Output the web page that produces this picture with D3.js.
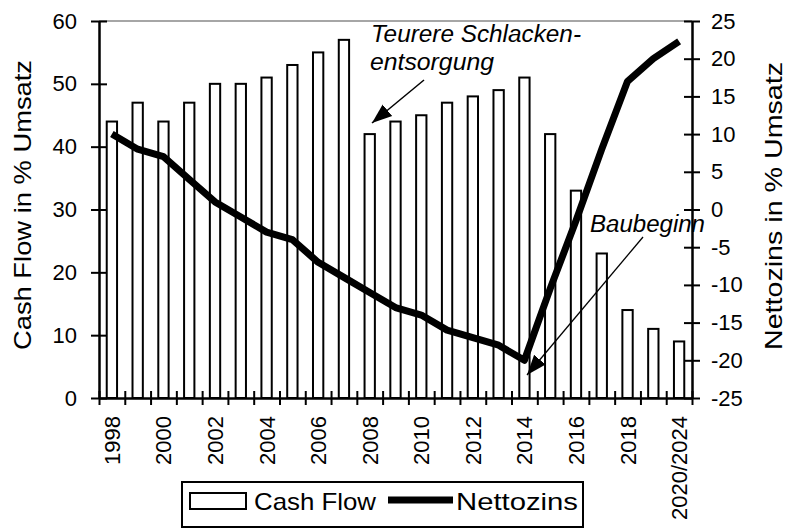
<!DOCTYPE html>
<html><head><meta charset="utf-8">
<script src="https://cdn.jsdelivr.net/npm/d3@7"></script>
<style>
html,body{margin:0;padding:0;background:#fff;}
svg{display:block;font-family:"Liberation Sans",Arial,sans-serif;}
</style></head>
<body>
<svg id="chart" width="786" height="528"></svg>
<script>
const categories = ["1998","1999","2000","2001","2002","2003","2004","2005","2006","2007","2008","2009","2010","2011","2012","2013","2014","2015","2016","2017","2018","2019","2020/2024"];
const cashFlow = [44,47,44,47,50,50,51,53,55,57,42,44,45,47,48,49,51,42,33,23,14,11,9];
const nettozins = [10,8,7,4,1,-1,-3,-4,-7,-9,-11,-13,-14,-16,-17,-18,-20,-10.5,-1.5,8,17,20,22.3];
const xLabels = ["1998","2000","2002","2004","2006","2008","2010","2012","2014","2016","2018","2020/2024"];
const leftTicks = [0,10,20,30,40,50,60];
const rightTicks = [-25,-20,-15,-10,-5,0,5,10,15,20,25];

const svg = d3.select("#chart");
const L = 99, R = 692, T = 21, B = 398;
const x = d3.scaleBand().domain(categories).range([L, R]);
const xi = d3.scaleLinear().domain([0, categories.length]).range([L, R]);
const yL = d3.scaleLinear().domain([0, 60]).range([B, T]);
const yR = d3.scaleLinear().domain([-25, 25]).range([B, T]);
const FS = 22;
const fmt = d => String(d);

// top border (gray)
svg.append("line").attr("x1", L).attr("x2", R).attr("y1", T).attr("y2", T)
  .attr("stroke", "#888").attr("stroke-width", 1.5);

// bars
const bw = x.bandwidth() * 0.40;
svg.append("g").selectAll("rect").data(categories).join("rect")
  .attr("x", d => x(d) + x.bandwidth() / 2 - bw / 2)
  .attr("y", (d, i) => yL(cashFlow[i]))
  .attr("width", bw)
  .attr("height", (d, i) => B - yL(cashFlow[i]))
  .attr("fill", "#fff").attr("stroke", "#000").attr("stroke-width", 2);

function styleAxis(g) {
  g.select(".domain").attr("stroke", "#000").attr("stroke-width", 2);
  g.selectAll(".tick line").attr("stroke", "#000").attr("stroke-width", 2);
  g.selectAll(".tick text").attr("font-size", FS).attr("fill", "#000")
    .attr("font-family", "Liberation Sans, Arial, sans-serif");
}

// left axis
svg.append("g").attr("transform", `translate(${L},0)`)
  .call(d3.axisLeft(yL).tickValues(leftTicks).tickFormat(fmt).tickSize(8).tickPadding(14).tickSizeOuter(0))
  .call(styleAxis);
svg.append("g").attr("transform", `translate(${L},0)`)
  .call(d3.axisLeft(yL).tickValues(leftTicks).tickSize(-8).tickFormat("").tickSizeOuter(0))
  .call(styleAxis);

// right axis
svg.append("g").attr("transform", `translate(${R},0)`)
  .call(d3.axisRight(yR).tickValues(rightTicks).tickFormat(fmt).tickSize(8).tickPadding(11).tickSizeOuter(0))
  .call(styleAxis);
svg.append("g").attr("transform", `translate(${R},0)`)
  .call(d3.axisRight(yR).tickValues(rightTicks).tickSize(-8).tickFormat("").tickSizeOuter(0))
  .call(styleAxis);

// bottom axis (ticks at category boundaries)
const bTicks = d3.range(0, categories.length + 1);
svg.append("g").attr("transform", `translate(0,${B})`)
  .call(d3.axisBottom(xi).tickValues(bTicks).tickSize(7).tickFormat("").tickSizeOuter(0))
  .call(styleAxis);
svg.append("g").attr("transform", `translate(0,${B})`)
  .call(d3.axisBottom(xi).tickValues(bTicks).tickSize(-7).tickFormat("").tickSizeOuter(0))
  .call(styleAxis);

// x labels
svg.append("g").selectAll("text").data(xLabels).join("text")
  .attr("transform", d => `translate(${x(d) + x.bandwidth() / 2 + 8},${416}) rotate(-90)`)
  .attr("text-anchor", "end").attr("font-size", FS).text(d => d);

// axis titles
svg.append("text").attr("transform", `translate(31,205) rotate(-90)`)
  .attr("text-anchor", "middle").attr("font-size", 24)
  .attr("textLength", 290).attr("lengthAdjust", "spacingAndGlyphs")
  .text("Cash Flow in % Umsatz");
svg.append("text").attr("transform", `translate(782,206) rotate(-90)`)
  .attr("text-anchor", "middle").attr("font-size", 24)
  .attr("textLength", 288).attr("lengthAdjust", "spacingAndGlyphs")
  .text("Nettozins in % Umsatz");

// line
const line = d3.line()
  .x((d, i) => x(categories[i]) + x.bandwidth() / 2)
  .y(d => yR(d));
svg.append("path").datum(nettozins).attr("d", line)
  .attr("fill", "none").attr("stroke", "#000").attr("stroke-width", 7)
  .attr("stroke-linejoin", "round");

// arrow marker
svg.append("defs").append("marker").attr("id", "arr")
  .attr("markerUnits", "userSpaceOnUse").attr("markerWidth", 20).attr("markerHeight", 20)
  .attr("viewBox", "0 -6 16 12").attr("refX", 16).attr("refY", 0).attr("orient", "auto")
  .append("path").attr("d", "M0,-6L16,0L0,6Z").attr("fill", "#000");

// annotations
svg.append("line").attr("x1", 424).attr("y1", 80).attr("x2", 372).attr("y2", 123)
  .attr("stroke", "#000").attr("stroke-width", 1.5).attr("marker-end", "url(#arr)");
svg.append("line").attr("x1", 643).attr("y1", 237).attr("x2", 527).attr("y2", 375)
  .attr("stroke", "#000").attr("stroke-width", 1.3).attr("marker-end", "url(#arr)");
svg.append("text").attr("x", 371).attr("y", 42).attr("font-size", 23).attr("font-style", "italic")
  .attr("textLength", 210).attr("lengthAdjust", "spacingAndGlyphs")
  .text("Teurere Schlacken-");
svg.append("text").attr("x", 370).attr("y", 70).attr("font-size", 23).attr("font-style", "italic")
  .attr("textLength", 124).attr("lengthAdjust", "spacingAndGlyphs")
  .text("entsorgung");
svg.append("text").attr("x", 590).attr("y", 232).attr("font-size", 23).attr("font-style", "italic")
  .attr("textLength", 115).attr("lengthAdjust", "spacingAndGlyphs")
  .text("Baubeginn");

// legend
const lg = svg.append("g");
lg.append("rect").attr("x", 182).attr("y", 482).attr("width", 401).attr("height", 45)
  .attr("fill", "#fff").attr("stroke", "#000").attr("stroke-width", 2);
lg.append("rect").attr("x", 190).attr("y", 493).attr("width", 56).attr("height", 16)
  .attr("fill", "#fff").attr("stroke", "#000").attr("stroke-width", 2);
lg.append("text").attr("x", 254).attr("y", 510).attr("font-size", 24)
  .attr("textLength", 122).attr("lengthAdjust", "spacingAndGlyphs").text("Cash Flow");
lg.append("line").attr("x1", 388).attr("x2", 453).attr("y1", 500).attr("y2", 500)
  .attr("stroke", "#000").attr("stroke-width", 7);
lg.append("text").attr("x", 456).attr("y", 510).attr("font-size", 24)
  .attr("textLength", 122).attr("lengthAdjust", "spacingAndGlyphs").text("Nettozins");
</script>
</body></html>
